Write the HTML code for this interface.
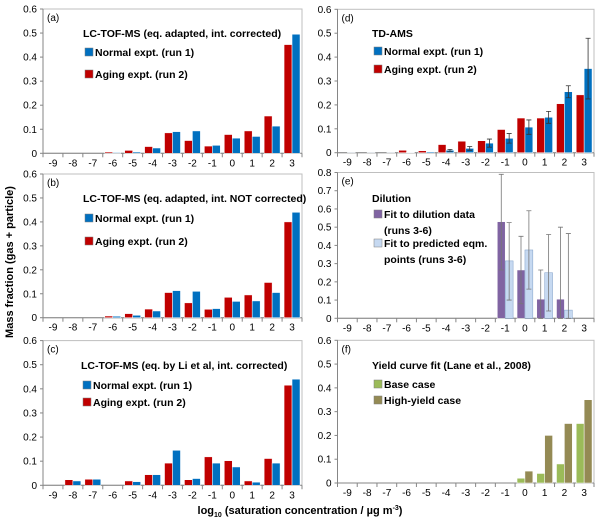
<!DOCTYPE html>
<html><head><meta charset="utf-8"><style>
body{margin:0;background:#fff;width:600px;height:522px;overflow:hidden;font-family:"Liberation Sans",sans-serif}
svg text{font-family:"Liberation Sans",sans-serif}
</style></head><body>
<svg id="chart" width="600" height="522" xmlns="http://www.w3.org/2000/svg">
<text transform="translate(13,262) rotate(-90)" text-anchor="middle" font-size="11" font-weight="bold">Mass fraction (gas + particle)</text>
<text x="300" y="514" text-anchor="middle" font-size="11" font-weight="bold">log<tspan font-size="7" dy="3">10</tspan><tspan dy="-3"> (saturation concentration / µg m</tspan><tspan font-size="7" dy="-4">-3</tspan><tspan dy="4">)</tspan></text>
</svg>
<script>
const categories=[-9,-8,-7,-6,-5,-4,-3,-2,-1,0,1,2,3];
const aRed=[0,0,0,0.005,0.012,0.028,0.085,0.053,0.030,0.078,0.093,0.155,0.452];
const aBlue=[0,0,0,0.003,0.005,0.022,0.090,0.093,0.033,0.063,0.070,0.113,0.495];
const bRed=[0,0,0,0.007,0.017,0.036,0.105,0.062,0.035,0.085,0.095,0.147,0.400];
const bBlue=[0,0,0,0.006,0.010,0.028,0.113,0.110,0.038,0.068,0.070,0.105,0.440];
const cRed=[0,0.023,0.025,0,0.018,0.044,0.092,0.023,0.118,0.102,0.018,0.111,0.415];
const cBlue=[0,0.018,0.025,0,0.015,0.044,0.145,0.028,0.092,0.076,0.013,0.092,0.440];
const dRed=[0,0,0,0.010,0.008,0.034,0.048,0.050,0.097,0.145,0.145,0.205,0.242];
const dBlue=[0.001,0.001,0.001,0.002,0.004,0.010,0.018,0.040,0.060,0.107,0.148,0.255,0.352];
const dBlueErr=[0,0,0,0,0,0.004,0.008,0.017,0.020,0.030,0.025,0.025,0.127];
const ePurple=[0,0,0,0,0,0,0,0,0.53,0.265,0.105,0.105,0];
const ePurpleLo=[0,0,0,0,0,0,0,0,0.265,0.08,0,0,0];
const ePurpleHi=[0,0,0,0,0,0,0,0,0.79,0.45,0.265,0.50,0];
const eLight=[0,0,0,0,0,0,0,0,0.315,0.375,0.25,0.045,0];
const eLightLo=[0,0,0,0,0,0,0,0,0.10,0.16,0.04,0,0];
const eLightHi=[0,0,0,0,0,0,0,0,0.525,0.59,0.46,0.465,0];
const fBase=[0,0,0,0,0,0,0,0,0,0.02,0.04,0.08,0.25];
const fHigh=[0,0,0,0,0,0,0,0,0,0.05,0.20,0.25,0.35];
const ticks6=[0,0.1,0.2,0.3,0.4,0.5,0.6];
const ticks8=[0,0.1,0.2,0.3,0.4,0.5,0.6,0.7,0.8];

const NS="http://www.w3.org/2000/svg";
const svg=document.getElementById('chart');
function mk(tag,attrs,parent){const e=document.createElementNS(NS,tag);for(const k in attrs)e.setAttribute(k,attrs[k]);(parent||svg).appendChild(e);return e;}

const panels=[
 {id:'a',x0:43,x1:302,y0:153.3,ymax:0.6,ytop:9,ticks:ticks6,label:'(a)',title:'LC-TOF-MS (eq. adapted, int. corrected)',tx:83,ty:37,
  series:[{v:aRed,c:'#C00000',name:'Aging expt. (run 2)'},{v:aBlue,c:'#0070C0',name:'Normal expt. (run 1)'}],
  legend:[{c:'#0070C0',t:'Normal expt. (run 1)',y:56},{c:'#C00000',t:'Aging expt. (run 2)',y:78}]},
 {id:'b',x0:43,x1:302,y0:317.7,ymax:0.6,ytop:174,ticks:ticks6,label:'(b)',title:'LC-TOF-MS (eq. adapted, int. NOT corrected)',tx:83,ty:202,
  series:[{v:bRed,c:'#C00000'},{v:bBlue,c:'#0070C0'}],
  legend:[{c:'#0070C0',t:'Normal expt. (run 1)',y:222},{c:'#C00000',t:'Aging expt. (run 2)',y:245}]},
 {id:'c',x0:43,x1:302,y0:485.3,ymax:0.6,ytop:340.6,ticks:ticks6,label:'(c)',title:'LC-TOF-MS  (eq. by Li et al, int. corrected)',tx:81,ty:369,
  series:[{v:cRed,c:'#C00000'},{v:cBlue,c:'#0070C0'}],
  legend:[{c:'#0070C0',t:'Normal expt. (run 1)',y:389},{c:'#C00000',t:'Aging expt. (run 2)',y:406}]},
 {id:'d',x0:337.5,x1:594,y0:152.7,ymax:0.6,ytop:9.3,ticks:ticks6,label:'(d)',title:'TD-AMS',tx:372,ty:37,
  series:[{v:dRed,c:'#C00000'},{v:dBlue,c:'#0070C0',err:dBlueErr}],
  legend:[{c:'#0070C0',t:'Normal expt. (run 1)',y:55},{c:'#C00000',t:'Aging expt. (run 2)',y:73}]},
 {id:'e',x0:337.5,x1:594,y0:318.3,ymax:0.8,ytop:172.5,ticks:ticks8,label:'(e)',title:'Dilution',tx:372,ty:202,
  series:[{v:ePurple,c:'#8064A2',lo:ePurpleLo,hi:ePurpleHi},{v:eLight,c:'#C6D9F1',stroke:'#7f9fc8',lo:eLightLo,hi:eLightHi}],
  legend:[{c:'#8064A2',t:'Fit to dilution data',t2:'(runs 3-6)',y:218},{c:'#C6D9F1',t:'Fit to predicted eqm.',t2:'points (runs 3-6)',y:247}]},
 {id:'f',x0:337.5,x1:594,y0:483,ymax:0.6,ytop:340.3,ticks:ticks6,label:'(f)',title:'Yield curve fit (Lane et al., 2008)',tx:372,ty:369,
  series:[{v:fBase,c:'#9BBB59'},{v:fHigh,c:'#948A54'}],
  legend:[{c:'#9BBB59',t:'Base case',y:388},{c:'#948A54',t:'High-yield case',y:404}]}
];

panels.forEach(p=>{
  const g=mk('g',{});
  
  
  const yS=v=>p.y0-(v/p.ymax)*(p.y0-p.ytop);
  const cw=(p.x1-p.x0)/categories.length;
  const xS=i=>p.x0+cw*(i+0.5);
  const frame=mk('rect',{x:p.x0,y:p.ytop,width:p.x1-p.x0,height:p.y0-p.ytop,fill:'none',stroke:'#bfbfbf','stroke-width':1},g);
  
  
  mk('line',{x1:p.x0,x2:p.x0,y1:p.ytop,y2:p.y0,stroke:'#868686'},g);
  mk('line',{x1:p.x0,x2:p.x1,y1:p.y0,y2:p.y0,stroke:'#868686'},g);
  p.ticks.forEach(t=>{
    mk('line',{x1:p.x0-3,x2:p.x0,y1:yS(t),y2:yS(t),stroke:'#868686'},g);
    const tl=mk('text',{x:p.x0-6,y:yS(t)+3.5,'text-anchor':'end','font-size':10,fill:'#000'},g);
    tl.textContent=t===0?'0':t.toFixed(1);
    
    
  });
  categories.forEach((c,i)=>{
    const xe=p.x0+cw*(i+1);
    mk('line',{x1:xe,x2:xe,y1:p.y0,y2:p.y0+4,stroke:'#868686'},g);
    const xl=mk('text',{x:xS(i),y:p.y0+13,'text-anchor':'middle','font-size':10},g);
    xl.textContent=String(c);
    
    
  });
  mk('line',{x1:p.x0,x2:p.x0,y1:p.y0,y2:p.y0+4,stroke:'#868686'},g);
  const bw=cw*0.4;
  p.series.forEach((s,si)=>{
    s.v.forEach((v,i)=>{
      const bx=xS(i)-bw+si*bw;
      const r=mk('rect',{x:bx,y:yS(v),width:bw,height:p.y0-yS(v),fill:s.c,stroke:s.stroke||'#ffffff','stroke-width':0.5},g);
      
      
      let lo=null,hi=null;
      if(s.err&&s.err[i]>0){lo=v-s.err[i];hi=v+s.err[i];}
      if(s.hi&&s.hi[i]>0){lo=s.lo[i];hi=s.hi[i];}
      if(hi!==null){
        const cx=bx+bw/2;
        const e=mk('path',{d:`M${cx},${yS(lo)}V${yS(hi)}M${cx-2.5},${yS(hi)}H${cx+2.5}M${cx-2.5},${yS(lo)}H${cx+2.5}`,stroke:s.err?'#333':'#777','stroke-width':0.8,fill:'none'},g);
        
        
      }
    });
  });
  const pl=mk('text',{x:p.x0+4,y:p.ytop+12,'font-size':10},g);
  pl.textContent=p.label;
  
  
  const tt=mk('text',{x:p.tx,y:p.ty,'font-size':10.5,'font-weight':'bold'},g);
  tt.textContent=p.title;
  
  
  p.legend.forEach(l=>{
    const lg=mk('g',{},g);
    
    
    mk('rect',{x:p.tx+2,y:l.y-8,width:8,height:8,fill:l.c,stroke:'#7f7f7f','stroke-width':0.5},lg);
    const lt=mk('text',{x:p.tx+12,y:l.y,'font-size':10.5,'font-weight':'bold'},lg);
    lt.textContent=l.t;
    if(l.t2){const l2=mk('text',{x:p.tx+12,y:l.y+16,'font-size':10.5,'font-weight':'bold'},lg);l2.textContent=l.t2;}
  });
});
</script>
</body></html>
